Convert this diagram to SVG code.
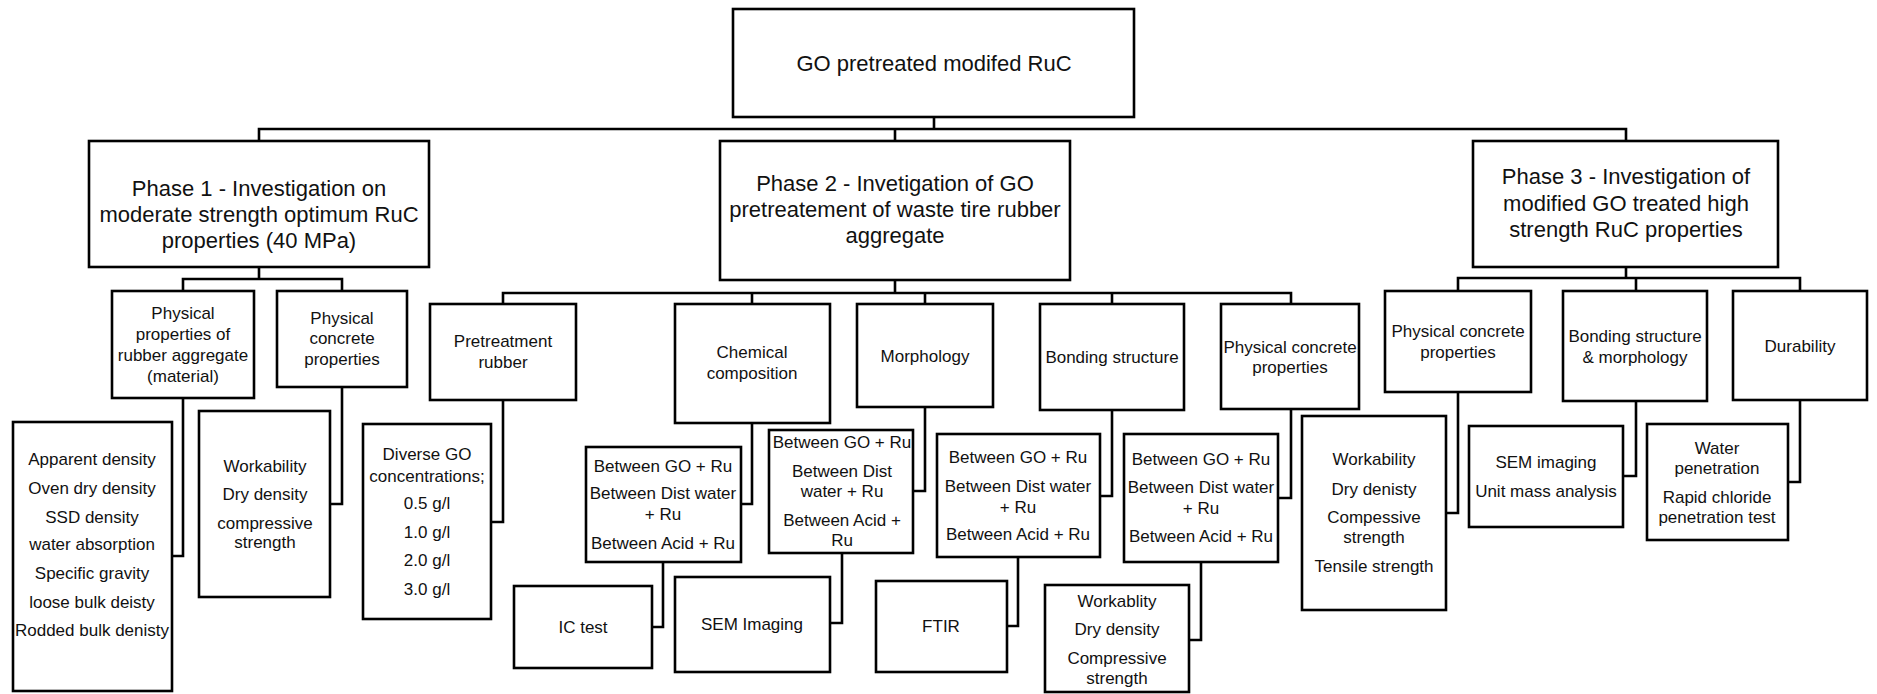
<svg xmlns="http://www.w3.org/2000/svg" width="1877" height="694" viewBox="0 0 1877 694">
<style>
rect{fill:#fff;stroke:#000;stroke-width:2.6}
.c path{fill:none;stroke:#000;stroke-width:2.6;stroke-linecap:square}
text{font-family:"Liberation Sans",Arial,sans-serif;fill:#111;text-anchor:middle}
.b{font-size:22px}
.s{font-size:17px}
</style>
<rect x="0" y="0" width="1877" height="694" style="fill:#fff;stroke:none"/>
<g class="c" id="connectors">
<path d="M934 117V129M259 129H1626M259 129V141M895 129V141M1626 129V141"/>
<path d="M259 267V279M183 279H342M183 279V291M342 279V291"/>
<path d="M183 398V556H172M342 387V504H330"/>
<path d="M895 280V293M503 293H1291M503 293V304M752 293V304M925 293V304M1112 293V304M1291 293V304"/>
<path d="M503 400V522H491M752 423V504H741M663 562V627H652M925 407V491H913M842 553V623H830M1112 410V496H1100M1018 557V626H1007M1291 409V498H1278M1201 562V640H1189"/>
<path d="M1626 267V278M1458 278H1800M1458 278V291M1636 278V291M1800 278V291"/>
<path d="M1458 392V513H1446M1636 401V476H1623M1800 400V482H1788"/>
</g>
<g id="root"><rect x="733" y="9" width="401" height="108"/><text class="b" x="934" y="71">GO pretreated modifed RuC</text></g>
<g id="phase1"><rect x="89" y="141" width="340" height="126"/><text class="b" x="259" y="196">Phase 1 - Investigation on</text><text class="b" x="259" y="222">moderate strength optimum RuC</text><text class="b" x="259" y="248">properties (40 MPa)</text></g>
<g id="phase2"><rect x="720" y="141" width="350" height="139"/><text class="b" x="895" y="191">Phase 2 - Invetigation of GO</text><text class="b" x="895" y="217">pretreatement of waste tire rubber</text><text class="b" x="895" y="243">aggregate</text></g>
<g id="phase3"><rect x="1473" y="141" width="305" height="126"/><text class="b" x="1626" y="184">Phase 3 - Investigation of</text><text class="b" x="1626" y="211">modified GO treated high</text><text class="b" x="1626" y="237">strength RuC properties</text></g>
<g id="p1-rubber"><rect x="112" y="291" width="142" height="107"/><text class="s" x="183" y="319">Physical</text><text class="s" x="183" y="340">properties of</text><text class="s" x="183" y="361">rubber aggregate</text><text class="s" x="183" y="382">(material)</text></g>
<g id="p1-concrete"><rect x="277" y="291" width="130" height="96"/><text class="s" x="342" y="324">Physical</text><text class="s" x="342" y="344">concrete</text><text class="s" x="342" y="365">properties</text></g>
<g id="p1-rubber-list"><rect x="13" y="422" width="159" height="269"/><text class="s" x="92" y="465">Apparent density</text><text class="s" x="92" y="494">Oven dry density</text><text class="s" x="92" y="523">SSD density</text><text class="s" x="92" y="550">water absorption</text><text class="s" x="92" y="579">Specific gravity</text><text class="s" x="92" y="608">loose bulk deisty</text><text class="s" x="92" y="636">Rodded bulk denisty</text></g>
<g id="p1-concrete-list"><rect x="199" y="411" width="131" height="186"/><text class="s" x="265" y="472">Workability</text><text class="s" x="265" y="500">Dry density</text><text class="s" x="265" y="529">compressive</text><text class="s" x="265" y="548">strength</text></g>
<g id="p2-pretreatment"><rect x="430" y="304" width="146" height="96"/><text class="s" x="503" y="347">Pretreatment</text><text class="s" x="503" y="368">rubber</text></g>
<g id="p2-chemical"><rect x="675" y="304" width="155" height="119"/><text class="s" x="752" y="358">Chemical</text><text class="s" x="752" y="379">composition</text></g>
<g id="p2-morphology"><rect x="857" y="304" width="136" height="103"/><text class="s" x="925" y="362">Morphology</text></g>
<g id="p2-bonding"><rect x="1040" y="304" width="144" height="106"/><text class="s" x="1112" y="363">Bonding structure</text></g>
<g id="p2-physical"><rect x="1221" y="304" width="138" height="105"/><text class="s" x="1290" y="353">Physical concrete</text><text class="s" x="1290" y="373">properties</text></g>
<g id="p2-concentrations"><rect x="363" y="424" width="128" height="195"/><text class="s" x="427" y="460">Diverse GO</text><text class="s" x="427" y="482">concentrations;</text><text class="s" x="427" y="509">0.5 g/l</text><text class="s" x="427" y="538">1.0 g/l</text><text class="s" x="427" y="566">2.0 g/l</text><text class="s" x="427" y="595">3.0 g/l</text></g>
<g id="p2-chem-between"><rect x="586" y="447" width="155" height="115"/><text class="s" x="663" y="472">Between GO + Ru</text><text class="s" x="663" y="499">Between Dist water</text><text class="s" x="663" y="520">+ Ru</text><text class="s" x="663" y="549">Between Acid + Ru</text></g>
<g id="p2-ic"><rect x="514" y="586" width="138" height="82"/><text class="s" x="583" y="633">IC test</text></g>
<g id="p2-morph-between"><rect x="769" y="430" width="144" height="123"/><text class="s" x="842" y="448">Between GO + Ru</text><text class="s" x="842" y="477">Between Dist</text><text class="s" x="842" y="497">water + Ru</text><text class="s" x="842" y="526">Between Acid +</text><text class="s" x="842" y="546">Ru</text></g>
<g id="p2-sem"><rect x="675" y="577" width="155" height="95"/><text class="s" x="752" y="630">SEM Imaging</text></g>
<g id="p2-bond-between"><rect x="937" y="434" width="163" height="123"/><text class="s" x="1018" y="463">Between GO + Ru</text><text class="s" x="1018" y="492">Between Dist water</text><text class="s" x="1018" y="513">+ Ru</text><text class="s" x="1018" y="540">Between Acid + Ru</text></g>
<g id="p2-ftir"><rect x="876" y="581" width="131" height="91"/><text class="s" x="941" y="632">FTIR</text></g>
<g id="p2-phys-between"><rect x="1124" y="434" width="154" height="128"/><text class="s" x="1201" y="465">Between GO + Ru</text><text class="s" x="1201" y="493">Between Dist water</text><text class="s" x="1201" y="514">+ Ru</text><text class="s" x="1201" y="542">Between Acid + Ru</text></g>
<g id="p2-phys-list"><rect x="1045" y="585" width="144" height="107"/><text class="s" x="1117" y="607">Workablity</text><text class="s" x="1117" y="635">Dry density</text><text class="s" x="1117" y="664">Compressive</text><text class="s" x="1117" y="684">strength</text></g>
<g id="p3-physical"><rect x="1385" y="291" width="146" height="101"/><text class="s" x="1458" y="337">Physical concrete</text><text class="s" x="1458" y="358">properties</text></g>
<g id="p3-bonding"><rect x="1563" y="291" width="144" height="110"/><text class="s" x="1635" y="342">Bonding structure</text><text class="s" x="1635" y="363">&amp; morphology</text></g>
<g id="p3-durability"><rect x="1733" y="291" width="134" height="109"/><text class="s" x="1800" y="352">Durability</text></g>
<g id="p3-physical-list"><rect x="1302" y="416" width="144" height="194"/><text class="s" x="1374" y="465">Workability</text><text class="s" x="1374" y="495">Dry denisty</text><text class="s" x="1374" y="523">Compessive</text><text class="s" x="1374" y="543">strength</text><text class="s" x="1374" y="572">Tensile strength</text></g>
<g id="p3-bonding-list"><rect x="1469" y="426" width="154" height="101"/><text class="s" x="1546" y="468">SEM imaging</text><text class="s" x="1546" y="497">Unit mass analysis</text></g>
<g id="p3-durability-list"><rect x="1647" y="424" width="141" height="116"/><text class="s" x="1717" y="454">Water</text><text class="s" x="1717" y="474">penetration</text><text class="s" x="1717" y="503">Rapid chloride</text><text class="s" x="1717" y="523">penetration test</text></g>
</svg>
